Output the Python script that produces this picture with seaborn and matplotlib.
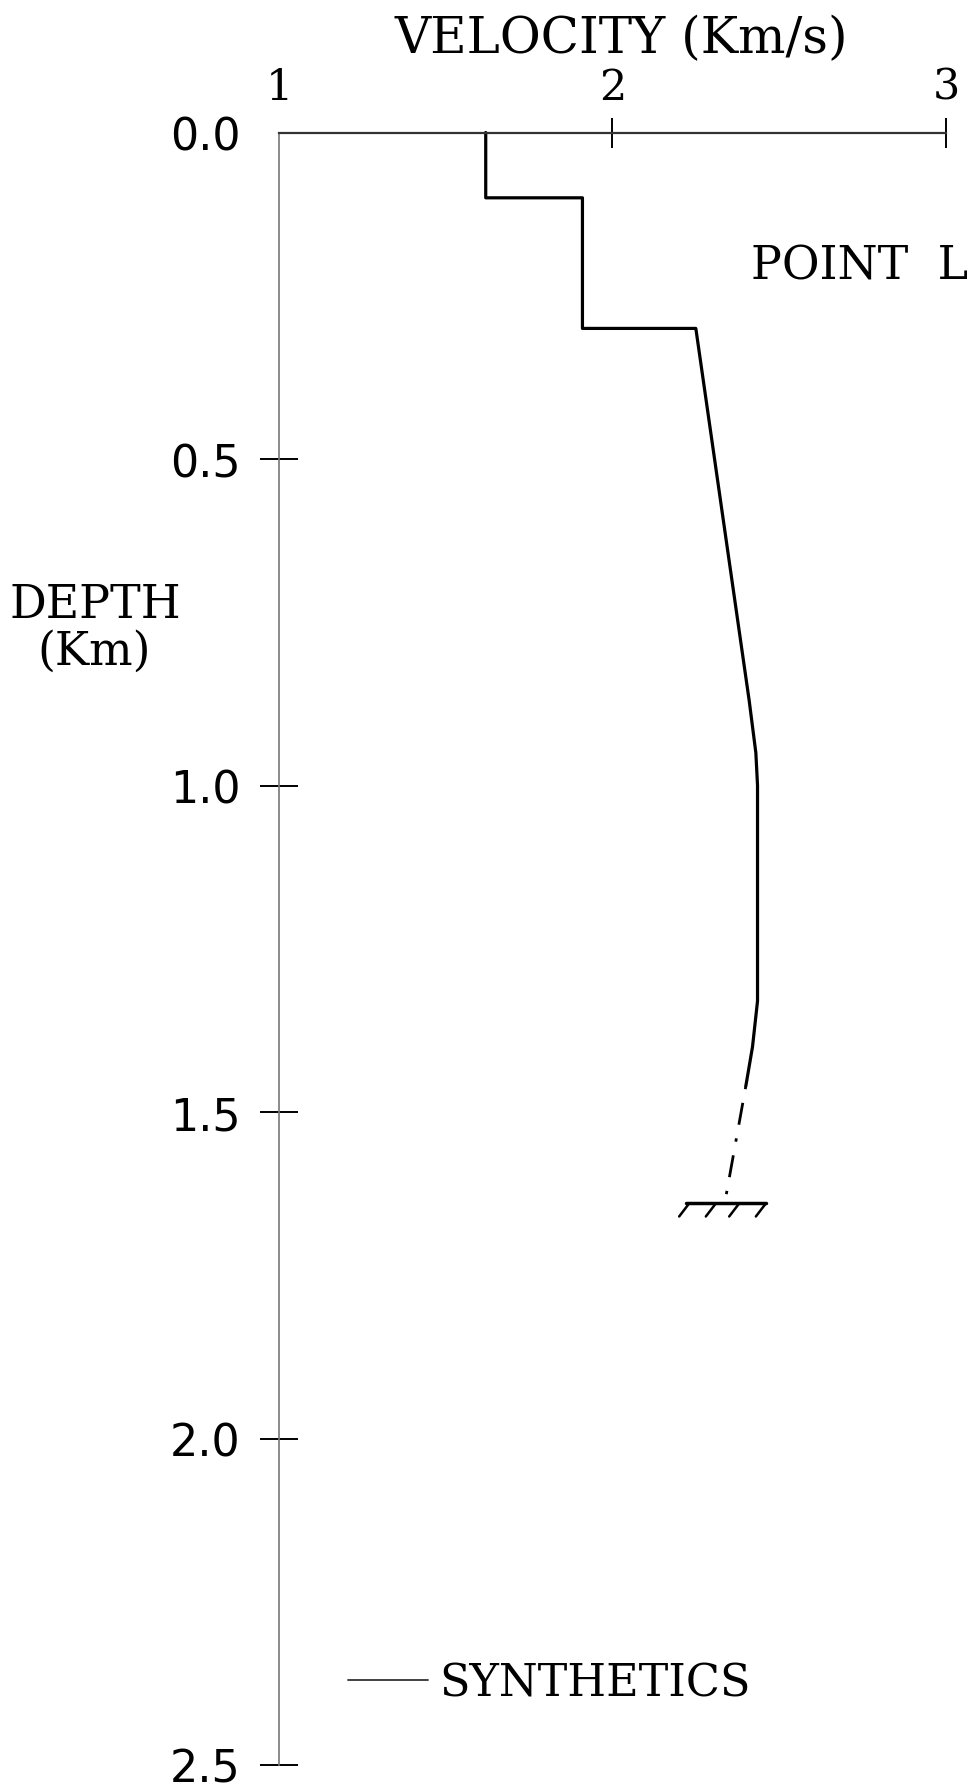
import matplotlib
matplotlib.use("Agg")
import matplotlib.pyplot as plt
from matplotlib.lines import Line2D
import pandas as pd
import seaborn as sns

# Axis ticks
velocity_ticks = [1, 2, 3]
depth_ticks = [0.0, 0.5, 1.0, 1.5, 2.0, 2.5]
depth_tick_labels = ["0.0", "0.5", "1.0", "1.5", "2.0", "2.5"]

# Interval velocity model (km/s) against depth (km)
model_velocity = [1.62, 1.62, 1.91, 1.91, 2.25, 2.41, 2.43, 2.435, 2.435, 2.42, 2.40]
model_depth = [0.00, 0.10, 0.10, 0.30, 0.30, 0.87, 0.95, 1.00, 1.33, 1.40, 1.46]

# Extrapolated part of the model
extrap_velocity = [2.40, 2.34]
extrap_depth = [1.46, 1.63]

# Half-space base
base_depth = 1.64
base_velocity = [2.22, 2.46]
hatch_velocity = [2.23, 2.31, 2.38, 2.46]

sns.set_style("white")
plt.rcParams["font.family"] = ["DejaVu Serif"]
plt.rcParams["text.color"] = "black"
plt.rcParams["xtick.color"] = "black"
plt.rcParams["ytick.color"] = "black"

fig = plt.figure(figsize=(9.71, 17.90), dpi=100)
ax = fig.add_axes([0.2873, 0.01341, 0.6869, 0.9120])

model = pd.DataFrame({"velocity": model_velocity, "depth": model_depth})
sns.lineplot(data=model, x="velocity", y="depth", sort=False, estimator=None,
             color="black", lw=2.3, ax=ax, clip_on=False)

extrap = pd.DataFrame({"velocity": extrap_velocity, "depth": extrap_depth})
sns.lineplot(data=extrap, x="velocity", y="depth", sort=False, estimator=None,
             color="black", lw=2.0, linestyle=(0, (1.2, 5, 8, 5)), ax=ax)

# base of model with hatching
ax.plot(base_velocity, [base_depth, base_depth], color="black", lw=2.5)
for v in hatch_velocity:
    ax.plot([v, v - 0.03], [base_depth, base_depth + 0.02], color="black", lw=1.8)

ax.set_xlim(1, 3)
ax.set_ylim(2.5, 0)
ax.set_xlabel("")
ax.set_ylabel("")

ax.xaxis.tick_top()
ax.set_xticks(velocity_ticks)
ax.set_xticklabels([str(v) for v in velocity_ticks])
ax.set_yticks(depth_ticks)
ax.set_yticklabels(depth_tick_labels)

ax.tick_params(axis="x", top=True, bottom=False, direction="inout", length=22,
               width=1.4, pad=7, labelsize=31, colors="black")
ax.tick_params(axis="y", left=True, right=False, direction="inout", length=27,
               width=1.4, pad=14, labelsize=32, colors="black")
for lbl in ax.get_yticklabels():
    lbl.set_family("DejaVu Sans")

ax.xaxis.get_major_ticks()[0].tick2line.set_visible(False)
ax.yaxis.get_major_ticks()[0].tick1line.set_visible(False)

for side in ["right", "bottom"]:
    ax.spines[side].set_visible(False)
ax.spines["left"].set_color("#777777")
ax.spines["left"].set_linewidth(1.2)
ax.spines["top"].set_color("#333333")
ax.spines["top"].set_linewidth(1.6)

ax.text(0.514, 1.0490, "VELOCITY (Km/s)", transform=ax.transAxes,
        ha="center", va="baseline", fontsize=36)
fig.text(0.098, 0.6547, "DEPTH", ha="center", va="baseline", fontsize=33)
fig.text(0.097, 0.6285, "(Km)", ha="center", va="baseline", fontsize=33)
ax.text(2.415, 0.224, "POINT  L", ha="left", va="baseline", fontsize=33)

ax.legend(handles=[Line2D([0], [0], color="#333333", lw=1.3)],
          labels=["SYNTHETICS"], loc="center left",
          bbox_to_anchor=(0.1034, 0.05), frameon=False, borderpad=0,
          borderaxespad=0, handlelength=1.8, handletextpad=0.25, fontsize=32)

fig.savefig("out.png", dpi=100)
